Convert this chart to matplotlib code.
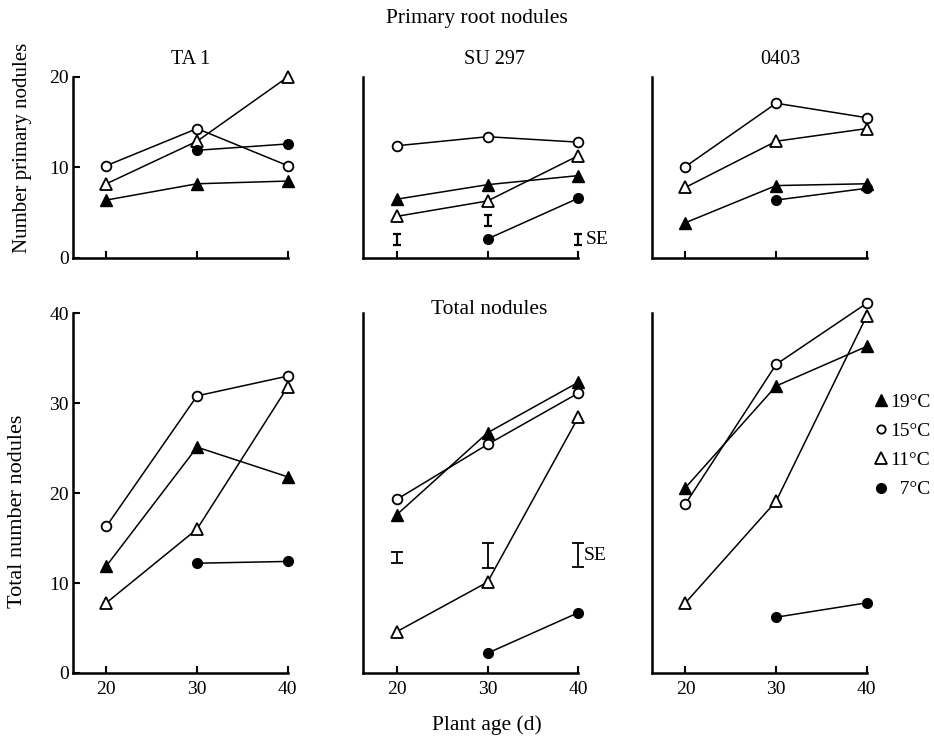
import numpy as np
import matplotlib
matplotlib.use("Agg")
import matplotlib.pyplot as plt
from matplotlib.lines import Line2D

plt.rcParams['font.family'] = ['Liberation Serif', 'DejaVu Serif']

ages = [20, 30, 40]
cultivars = ["TA 1", "SU 297", "0403"]

# primary root nodules per cultivar: 19, 15, 11, 7 degC
prim_19 = [[6.4, 8.2, 8.5], [6.5, 8.1, 9.1], [3.9, 8.0, 8.2]]
prim_15 = [[10.2, 14.3, 10.2], [12.4, 13.4, 12.8], [10.1, 17.1, 15.5]]
prim_11 = [[8.2, 12.9, 20.0], [4.6, 6.3, 11.3], [7.8, 12.9, 14.3]]
prim_7 = [[11.9, 12.6], [2.1, 6.6], [6.4, 7.7]]

# total nodules
tot_19 = [[11.9, 25.1, 21.8], [17.6, 26.7, 32.3], [20.6, 31.9, 36.3]]
tot_15 = [[16.3, 30.8, 33.0], [19.3, 25.4, 31.1], [18.8, 34.3, 41.1]]
tot_11 = [[7.8, 16.0, 31.8], [4.6, 10.1, 28.4], [7.8, 19.1, 39.7]]
tot_7 = [[12.2, 12.4], [2.2, 6.7], [6.2, 7.8]]

# SE bars (SU 297 panels)
se_prim_y = [2.0, 4.1, 2.0]
se_prim_err = [0.6, 0.6, 0.6]
se_tot_y = [12.8, 13.1, 13.1]
se_tot_err = [0.6, 1.4, 1.3]

temps = ["19°C", "15°C", "11°C", "  7°C"]

fig = plt.figure(figsize=(9.34, 7.36), dpi=100)

lefts = [0.078, 0.389, 0.698]
w = 0.232
top_axes = [fig.add_axes([l, 0.6495, w, 0.2459]) for l in lefts]
bot_axes = [fig.add_axes([l, 0.0856, w, 0.489]) for l in lefts]

ms_c = 7
ms_t = 8


def draw(ax, d19, d15, d11, d7):
    kw = dict(color='black', lw=1.1, clip_on=False)
    ax.plot(ages, d15, marker='o', ms=ms_c, mfc='white', mec='black', mew=1.3, zorder=3, **kw)
    ax.plot(ages, d11, marker='^', ms=ms_t, mfc='white', mec='black', mew=1.3, zorder=3, **kw)
    ax.plot(ages, d19, marker='^', ms=ms_t, mfc='black', mec='black', zorder=4, **kw)
    ax.plot(ages[1:], d7, marker='o', ms=ms_c, mfc='black', mec='black', zorder=4, **kw)


def style(ax, ymax, yticks, show_y, show_x):
    ax.set_xlim(16.3, 40.2)
    ax.set_ylim(0, ymax)
    for s in ['top', 'right']:
        ax.spines[s].set_visible(False)
    ax.spines['left'].set_linewidth(1.8)
    ax.spines['bottom'].set_linewidth(1.8)
    ax.spines['bottom'].set_bounds(16.3, 40)
    ax.set_xticks(ages)
    ax.tick_params(axis='x', direction='in', length=5, width=1.5, labelsize=14, pad=6)
    ax.tick_params(axis='y', direction='in', length=5, width=1.5, labelsize=14, pad=3)
    if show_y:
        ax.set_yticks(yticks)
    else:
        ax.set_yticks([])
    if not show_x:
        ax.set_xticklabels([])


for i in range(3):
    draw(top_axes[i], prim_19[i], prim_15[i], prim_11[i], prim_7[i])
    style(top_axes[i], 20, [0, 10, 20], i == 0, False)
    draw(bot_axes[i], tot_19[i], tot_15[i], tot_11[i], tot_7[i])
    style(bot_axes[i], 40, [0, 10, 20, 30, 40], i == 0, True)

# panel titles
for x, name in zip([191, 494, 780], cultivars):
    fig.text(x / 934, 1 - 60 / 736, name, ha='center', va='center', fontsize=14.5)

top_axes[1].errorbar(ages, se_prim_y, yerr=se_prim_err, fmt='none', ecolor='black',
                     elinewidth=1.6, capsize=3, capthick=1.6, clip_on=False)
top_axes[1].text(40.8, se_prim_y[2], "SE", fontsize=14, va='center')
bot_axes[1].errorbar(ages, se_tot_y, yerr=se_tot_err, fmt='none', ecolor='black',
                     elinewidth=1.3, capsize=4, capthick=1.3, clip_on=False)
bot_axes[1].text(40.6, se_tot_y[2], "SE", fontsize=14, va='center')

top_axes[0].set_ylabel("Number primary nodules", fontsize=15)
bot_axes[0].set_ylabel("Total number nodules", fontsize=16)
top_axes[0].yaxis.set_label_coords(-0.19, 0.61)
bot_axes[0].yaxis.set_label_coords(-0.21, 0.45)

fig.text(477 / 934, 1 - 19 / 736, "Primary root nodules", ha='center', va='center', fontsize=15.5)
fig.text(489 / 934, 1 - 310 / 736, "Total nodules", ha='center', va='center', fontsize=15.5)
fig.text(487 / 934, 1 - 725 / 736, "Plant age (d)", ha='center', va='center', fontsize=15.5)

handles = [
    Line2D([], [], ls='none', marker='^', ms=8, mfc='black', mec='black'),
    Line2D([], [], ls='none', marker='o', ms=6, mfc='white', mec='black', mew=1.3),
    Line2D([], [], ls='none', marker='^', ms=8, mfc='white', mec='black', mew=1.3),
    Line2D([], [], ls='none', marker='o', ms=7, mfc='black', mec='black'),
]
fig.legend(handles, temps, loc='upper left', bbox_to_anchor=(0.937, 0.466),
           frameon=False, fontsize=14, handlelength=0.6, handletextpad=0.15,
           labelspacing=0.6, borderaxespad=0, borderpad=0)

fig.savefig("out.png", dpi=100)
